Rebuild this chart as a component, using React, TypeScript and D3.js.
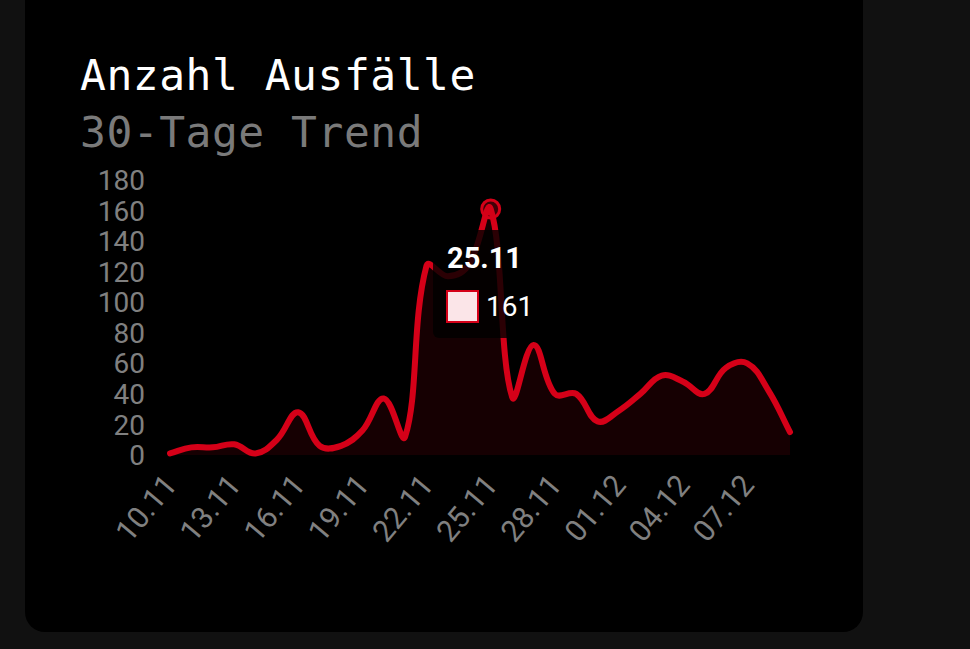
import React from "react";
import * as d3 from "d3";

const dates = [
  "10.11","11.11","12.11","13.11","14.11","15.11","16.11","17.11","18.11","19.11",
  "20.11","21.11","22.11","23.11","24.11","25.11","26.11","27.11","28.11","29.11",
  "30.11","01.12","02.12","03.12","04.12","05.12","06.12","07.12","08.12","09.12",
];
const values = [1,5,5,7,1,10,28,6,6,16,37,12,124,117,125,161,38,72,40,40,22,29,40,52,48,40,57,60,42,15];
const yTicks = [0,20,40,60,80,100,120,140,160,180];
const xTickEvery = 3;
const hoverIndex = 15;

const W = 970, H = 649;
const left = 170, right = 790, top = 180, bottom = 455;
const RED = "#d50018";

function splinePath(pts: [number, number][], tension: number, close?: number) {
  const n = pts.length;
  const cps = pts.map((p, i) => {
    const prev = pts[Math.max(0, i - 1)];
    const next = pts[Math.min(n - 1, i + 1)];
    const d01 = Math.hypot(p[0] - prev[0], p[1] - prev[1]);
    const d12 = Math.hypot(next[0] - p[0], next[1] - p[1]);
    let s01 = d01 / (d01 + d12);
    let s12 = d12 / (d01 + d12);
    if (!isFinite(s01)) s01 = 0;
    if (!isFinite(s12)) s12 = 0;
    const fa = tension * s01, fb = tension * s12;
    const clampX = (v: number) => Math.max(left, Math.min(right, v));
    const clampY = (v: number) => Math.max(top, Math.min(bottom, v));
    return {
      c1: [clampX(p[0] - fa * (next[0] - prev[0])), clampY(p[1] - fa * (next[1] - prev[1]))],
      c2: [clampX(p[0] + fb * (next[0] - prev[0])), clampY(p[1] + fb * (next[1] - prev[1]))],
    };
  });
  const path = d3.path();
  path.moveTo(pts[0][0], pts[0][1]);
  for (let i = 1; i < n; i++) {
    const a = cps[i - 1].c2, b = cps[i].c1;
    path.bezierCurveTo(a[0], a[1], b[0], b[1], pts[i][0], pts[i][1]);
  }
  if (close !== undefined) {
    path.lineTo(pts[n - 1][0], close);
    path.lineTo(pts[0][0], close);
    path.closePath();
  }
  return path.toString();
}

export default function App() {
  const x = d3.scaleLinear().domain([0, dates.length - 1]).range([left, right]);
  const y = d3.scaleLinear().domain([0, 180]).range([bottom, top]);
  const pts: [number, number][] = values.map((v, i) => [x(i), y(v)]);
  const line = splinePath(pts, 0.4);
  const area = splinePath(pts, 0.4, y(0));
  const hx = x(hoverIndex), hy = y(values[hoverIndex]);
  const tipX = 433, tipY = 230, tipW = 113, tipH = 108;

  return (
    <svg width={W} height={H} style={{ position: "fixed", left: 0, top: 0 }}>
      <rect x={0} y={0} width={W} height={H} fill="#111111" />
      <rect x={25} y={-30} width={838} height={662} rx={20} fill="#000000" />
      <text x={80} y={90} fill="#ffffff" fontFamily="DejaVu Sans Mono" fontSize={43} letterSpacing={0.5}>
        Anzahl Ausfälle
      </text>
      <text x={80} y={147} fill="#7a7a7a" fontFamily="DejaVu Sans Mono" fontSize={43} letterSpacing={0.5}>
        30-Tage Trend
      </text>
      {yTicks.map((t) => (
        <text key={t} x={145} y={y(t)} dy="0.36em" textAnchor="end" fill="#808080"
          fontFamily="Roboto" fontSize={28}>
          {t}
        </text>
      ))}
      {dates.map((d, i) =>
        i % xTickEvery === 0 ? (
          <text key={d} transform={`translate(${x(i)},${479}) rotate(-50)`} textAnchor="end"
            dy="0.36em" fill="#808080" fontFamily="Roboto" fontSize={30}>
            {d}
          </text>
        ) : null
      )}
      <path d={area} fill="rgba(213,0,24,0.1)" stroke="none" />
      <path d={line} fill="none" stroke={RED} strokeWidth={6} strokeLinejoin="round" strokeLinecap="round" />
      <circle cx={hx} cy={hy} r={9} fill="rgba(213,0,24,0.3)" stroke={RED} strokeWidth={3} />
      <rect x={tipX} y={tipY} width={tipW} height={tipH} rx={6} fill="rgba(0,0,0,0.8)" />
      <text x={447} y={268} fill="#ffffff" fontFamily="Roboto" fontWeight="bold" fontSize={29}>
        {dates[hoverIndex]}
      </text>
      <rect x={447} y={291} width={31} height={31} fill="#fbe5e8" stroke={RED} strokeWidth={2} />
      <text x={486} y={316} fill="#ffffff" fontFamily="Roboto" fontSize={28}>
        {values[hoverIndex]}
      </text>
    </svg>
  );
}
